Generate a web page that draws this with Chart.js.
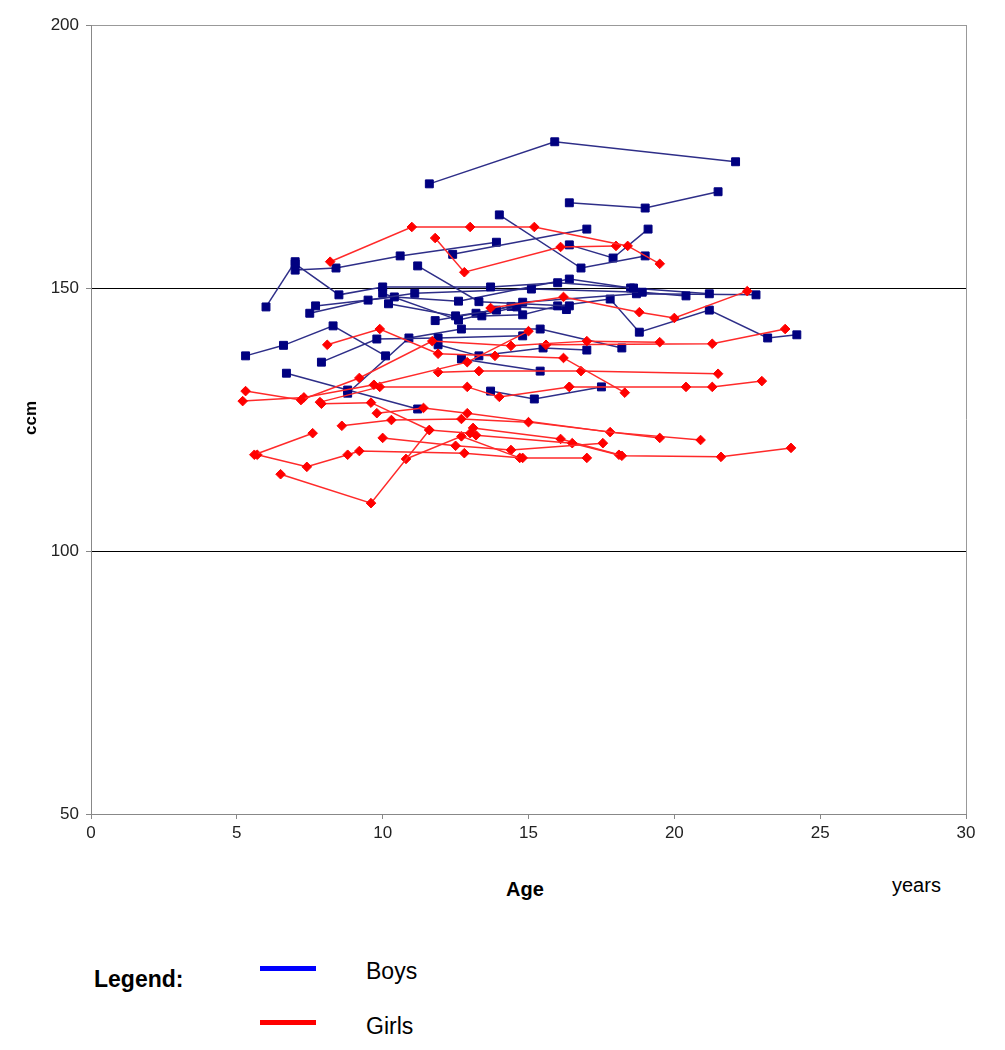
<!DOCTYPE html>
<html>
<head>
<meta charset="utf-8">
<script src="https://cdn.jsdelivr.net/npm/chart.js@4.4.1/dist/chart.umd.min.js"></script>
<style>
  body { margin: 0; background: #fff; font-family: "Liberation Sans", Arial, sans-serif; }
  #wrap { position: relative; width: 1005px; height: 1050px; }
  #c { position: absolute; left: 0; top: 0; }
  .t { position: absolute; color: #000; white-space: nowrap; }
  .sw { position: absolute; height: 5px; width: 56px; }
</style>
</head>
<body>
<div id="wrap">
  <canvas id="c" width="1005" height="860"></canvas>
  <div class="t" style="left:14px;top:408px;font-weight:bold;font-size:17px;transform:rotate(-90deg);">ccm</div>
  <div class="t" style="left:506px;top:878px;font-weight:bold;font-size:20px;">Age</div>
  <div class="t" style="left:892px;top:874px;font-size:20px;">years</div>
  <div class="t" style="left:94px;top:966px;font-weight:bold;font-size:23px;">Legend:</div>
  <div class="sw" style="left:260px;top:966px;background:#0000ff;"></div>
  <div class="t" style="left:366px;top:958px;font-size:23px;">Boys</div>
  <div class="sw" style="left:260px;top:1020px;background:#ff0000;"></div>
  <div class="t" style="left:366px;top:1013px;font-size:23px;">Girls</div>
</div>
<script>
// axis ticks
const xTicks = [0, 5, 10, 15, 20, 25, 30];
const yTicks = [50, 100, 150, 200];

// boys: one row per child (age in years, ccm)
const boyAges = [
  [11.6, 15.9, 22.1],
  [16.4, 19.0, 21.5],
  [14.0, 16.8, 19.0],
  [12.4, 17.0],
  [16.4, 17.9, 19.1],
  [7.0, 8.4, 10.6, 13.9],
  [6.0, 7.0],
  [7.0, 8.5, 10.0, 13.7, 16.0, 18.6],
  [11.2, 13.3, 16.4],
  [7.5, 9.5, 11.1, 15.1, 18.9, 20.4],
  [7.7, 10.4, 12.6, 16.4, 18.5, 21.2],
  [5.3, 6.6, 8.3, 10.1],
  [7.9, 9.8, 11.9, 14.8],
  [6.7, 8.8, 11.2],
  [8.8, 10.9, 12.7, 15.4, 18.2],
  [10.2, 12.5, 13.9, 14.8, 18.7, 22.8],
  [11.9, 13.3, 15.5, 17.0],
  [13.4, 14.8, 16.0, 17.8, 18.8, 21.2, 23.2, 24.2],
  [13.7, 15.2, 17.5],
  [12.7, 15.4],
  [10.0, 12.6, 14.6, 16.3],
  [11.8, 13.2, 14.4]
];
const boyCcm = [
  [169.8, 177.8, 174.0],
  [166.2, 165.2, 168.3],
  [163.9, 153.8, 156.1],
  [156.4, 161.2],
  [158.2, 155.7, 161.2],
  [153.4, 153.8, 156.1, 158.7],
  [146.4, 155.0],
  [154.6, 148.7, 150.2, 150.2, 151.0, 150.0],
  [154.2, 147.4, 146.6],
  [145.2, 147.7, 149.0, 149.8, 149.2, 148.5],
  [146.6, 148.3, 147.5, 151.7, 150.0, 148.9],
  [137.1, 139.1, 142.8, 137.1],
  [135.9, 140.3, 140.5, 140.9],
  [133.8, 130.6, 127.0],
  [130.0, 140.5, 142.2, 142.2, 138.6],
  [147.0, 144.7, 145.8, 147.3, 148.9, 148.7],
  [139.2, 137.1, 138.6, 138.2],
  [144.7, 144.9, 146.6, 147.9, 141.6, 145.8, 140.5, 141.1],
  [130.4, 128.9, 131.2],
  [136.5, 134.2],
  [149.0, 143.9, 146.4, 145.9],
  [143.8, 145.2, 146.5]
];

// girls: one row per child (age in years, ccm)
const girlAges = [
  [8.2, 11.0, 13.0, 15.2, 18.4, 19.5],
  [11.8, 12.8, 16.1, 18.0],
  [8.1, 9.9, 11.9, 13.85, 16.2, 18.3],
  [5.3, 7.2, 9.2, 11.7, 14.4, 17.0, 19.5],
  [5.2, 7.3, 9.7, 12.9, 15.0],
  [13.7, 16.2, 18.8, 20.0, 22.5],
  [15.6, 21.3, 23.8],
  [16.4, 20.4, 21.3, 23.0],
  [11.9, 13.3, 16.8, 21.5],
  [7.85, 9.9, 12.9, 14.0, 16.4],
  [7.9, 9.6, 11.6],
  [5.6, 7.6],
  [5.7, 7.4, 8.8, 9.2, 12.8, 14.8, 17.0],
  [6.5, 9.6, 11.6, 13.0],
  [10.8, 12.7, 14.7],
  [10.0, 12.5, 14.4, 17.55],
  [8.6, 10.3, 12.7, 15.0, 19.5],
  [9.8, 11.4, 12.9, 17.8, 20.9],
  [13.2, 16.5, 18.2, 21.6, 24.0],
  [13.1, 16.1, 18.1]
];
const girlCcm = [
  [155.0, 161.6, 161.6, 161.6, 158.0, 154.6],
  [159.5, 153.0, 157.8, 158.0],
  [139.2, 142.2, 137.5, 137.1, 136.7, 130.1],
  [130.4, 128.7, 132.9, 139.9, 139.0, 139.9, 139.7],
  [128.5, 129.2, 131.6, 135.9, 141.8],
  [146.2, 148.3, 145.4, 144.3, 149.4],
  [139.2, 139.4, 142.2],
  [131.2, 131.2, 131.2, 132.3],
  [134.0, 134.2, 134.2, 133.7],
  [128.3, 131.2, 131.2, 129.3, 131.2],
  [128.0, 128.2, 123.0],
  [118.3, 122.4],
  [118.3, 116.0, 118.3, 119.0, 118.6, 117.7, 117.7],
  [114.6, 109.1, 123.0, 122.4],
  [117.5, 121.8, 117.7],
  [121.5, 120.0, 119.2, 120.5],
  [123.8, 124.9, 125.1, 124.5, 121.5],
  [126.2, 127.2, 126.2, 122.6, 121.1],
  [122.0, 120.5, 118.1, 117.9, 119.6],
  [123.4, 121.3, 118.3]
];

function makeSets(ages, vals, line, fill, shape, r) {
  return ages.map((row, i) => ({
    data: row.map((a, j) => ({ x: a, y: vals[i][j] })),
    showLine: true,
    borderColor: line,
    borderWidth: 1.5,
    pointBackgroundColor: fill,
    pointBorderColor: fill,
    pointBorderWidth: 1,
    pointStyle: shape,
    pointRadius: r,
    tension: 0
  }));
}

const datasets = [
  ...makeSets(girlAges, girlCcm, "#ff2a2a", "#ff0000", "rectRot", 4.8),
  ...makeSets(boyAges, boyCcm, "#2e2e88", "#000080", "rect", 5.6)
];

new Chart(document.getElementById("c").getContext("2d"), {
  type: "scatter",
  data: { datasets },
  options: {
    responsive: false,
    animation: false,
    layout: { padding: { left: 0, top: 25, right: 39, bottom: 0 } },
    plugins: { legend: { display: false }, tooltip: { enabled: false } },
    scales: {
      x: {
        type: "linear",
        min: 0,
        max: 30,
        afterFit: (s) => { s.height = 46; },
        afterBuildTicks: (s) => { s.ticks = xTicks.map((v) => ({ value: v })); },
        border: { color: "#888", width: 1 },
        grid: {
          color: (c) => (c.tick && c.tick.value === 30 ? "#999" : "transparent"),
          tickColor: "#888",
          tickLength: 5
        },
        ticks: { color: "#222", font: { family: "Liberation Sans", size: 17 }, padding: 4 }
      },
      y: {
        type: "linear",
        min: 50,
        max: 200,
        afterFit: (s) => { s.width = 91; },
        afterBuildTicks: (s) => { s.ticks = yTicks.map((v) => ({ value: v })); },
        border: { color: "#888", width: 1 },
        grid: {
          color: (c) => {
            const v = c.tick ? c.tick.value : 0;
            if (v === 100 || v === 150) return "#000";
            if (v === 200) return "#999";
            return "transparent";
          },
          tickColor: "#888",
          tickLength: 5
        },
        ticks: { color: "#222", font: { family: "Liberation Sans", size: 17 }, padding: 7 }
      }
    }
  }
});
</script>
</body>
</html>
